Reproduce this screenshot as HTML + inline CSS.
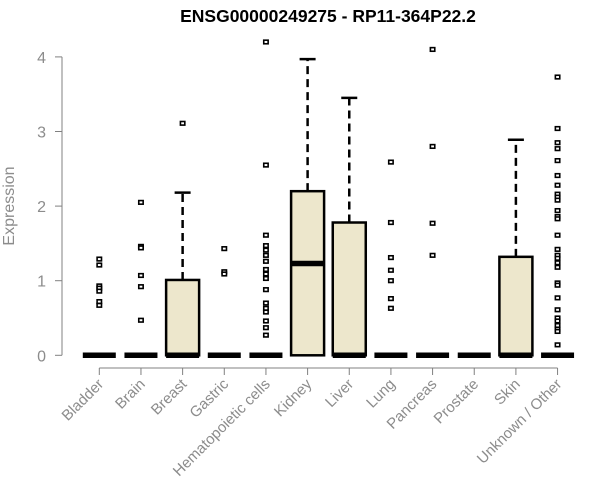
<!DOCTYPE html>
<html><head><meta charset="utf-8"><style>
body{margin:0;background:#fff}
svg{display:block;font-family:"Liberation Sans",Arial,sans-serif}
</style></head><body>
<svg id="chart" width="600" height="500">
<text x="328" y="22" text-anchor="middle" font-weight="bold" font-size="17.5" fill="#000">ENSG00000249275 - RP11-364P22.2</text>
<text transform="translate(14,206) rotate(-90)" text-anchor="middle" font-size="16" fill="#8c8c8c">Expression</text>
<g id="yaxis"></g>
<g id="xaxis"></g>
<g id="boxes"></g>
</svg>
<script>
const categories=["Bladder","Brain","Breast","Gastric","Hematopoietic cells","Kidney","Liver","Lung","Pancreas","Prostate","Skin","Unknown / Other"];
const q1=[0,0,0,0,0,0,0,0,0,0,0,0];
const medians=[0,0,0,0,0,1.23,0,0,0,0,0,0];
const q3=[0,0,1.01,0,0,2.2,1.78,0,0,0,1.32,0];
const whiskerHi=[0,0,2.18,0,0,3.97,3.45,0,0,0,2.89,0];
const outliers=[
[1.29,1.21,0.93,0.9,0.86,0.72,0.67],
[2.05,1.46,1.44,1.07,0.92,0.47],
[3.11],
[1.43,1.12,1.09],
[4.2,2.55,1.61,1.47,1.41,1.34,1.26,1.15,1.09,1.03,0.88,0.7,0.63,0.58,0.46,0.37,0.27],
[],
[],
[2.59,1.78,1.31,1.14,1.0,0.76,0.63],
[4.1,2.8,1.77,1.34],
[],
[],
[3.73,3.04,2.85,2.77,2.61,2.41,2.28,2.16,2.12,2.08,1.94,1.86,1.83,1.61,1.42,1.34,1.3,1.24,1.18,0.97,0.94,0.77,0.61,0.5,0.46,0.4,0.35,0.32,0.14]
];
const yTicks=[0,1,2,3,4];
const NS="http://www.w3.org/2000/svg";
function y(v){return 355.3-v*74.6;}
function x(i){return 99.3+i*41.66;}
function mk(tag,attrs,parent){const e=document.createElementNS(NS,tag);for(const k in attrs)e.setAttribute(k,attrs[k]);parent.appendChild(e);return e;}
const ya=document.getElementById('yaxis'),xa=document.getElementById('xaxis'),bx=document.getElementById('boxes');
let l=mk('line',{x1:62,x2:62,y1:y(4),y2:y(0),stroke:'#808080'},ya);


yTicks.forEach(t=>{
 const tk=mk('line',{x1:55,x2:62,y1:y(t),y2:y(t),stroke:'#808080'},ya);
 
 
 const tx=mk('text',{x:46,y:y(t)+6,'text-anchor':'end','font-size':16,fill:'#8c8c8c'},ya);
 tx.textContent=t;
 
 
});
l=mk('line',{x1:x(0),x2:x(categories.length-1),y1:368,y2:368,stroke:'#808080'},xa);


categories.forEach((c,i)=>{
 const cx=x(i);
 const tk=mk('line',{x1:cx,x2:cx,y1:368,y2:375,stroke:'#808080'},xa);
 
 
 const tx=mk('text',{transform:`translate(${cx+5},${385}) rotate(-45)`,'text-anchor':'end','font-size':15,fill:'#8c8c8c'},xa);
 tx.textContent=c;
 
 
 const g=mk('g',{},bx);
 
 
 const hw=16.5;
 if(whiskerHi[i]>q3[i]){
  mk('line',{x1:cx,x2:cx,y1:y(q3[i]),y2:y(whiskerHi[i]),stroke:'#000','stroke-width':2.5,'stroke-dasharray':'8,5'},g);
  mk('line',{x1:cx-8,x2:cx+8,y1:y(whiskerHi[i]),y2:y(whiskerHi[i]),stroke:'#000','stroke-width':2.5},g);
 }
 if(q3[i]>q1[i]){
  mk('rect',{x:cx-hw,y:y(q3[i]),width:2*hw,height:y(q1[i])-y(q3[i]),fill:'#ede7cc',stroke:'#000','stroke-width':2.5},g);
 }
 mk('line',{x1:cx-hw,x2:cx+hw,y1:y(medians[i]),y2:y(medians[i]),stroke:'#000','stroke-width':5.5},g);
 outliers[i].forEach(v=>{
  const p=mk('rect',{x:cx-2.2,y:y(v)-1.8,width:4.4,height:3.6,fill:'#fff',stroke:'#000','stroke-width':1.6},g);
  
  
 });
});
</script>
</body></html>
